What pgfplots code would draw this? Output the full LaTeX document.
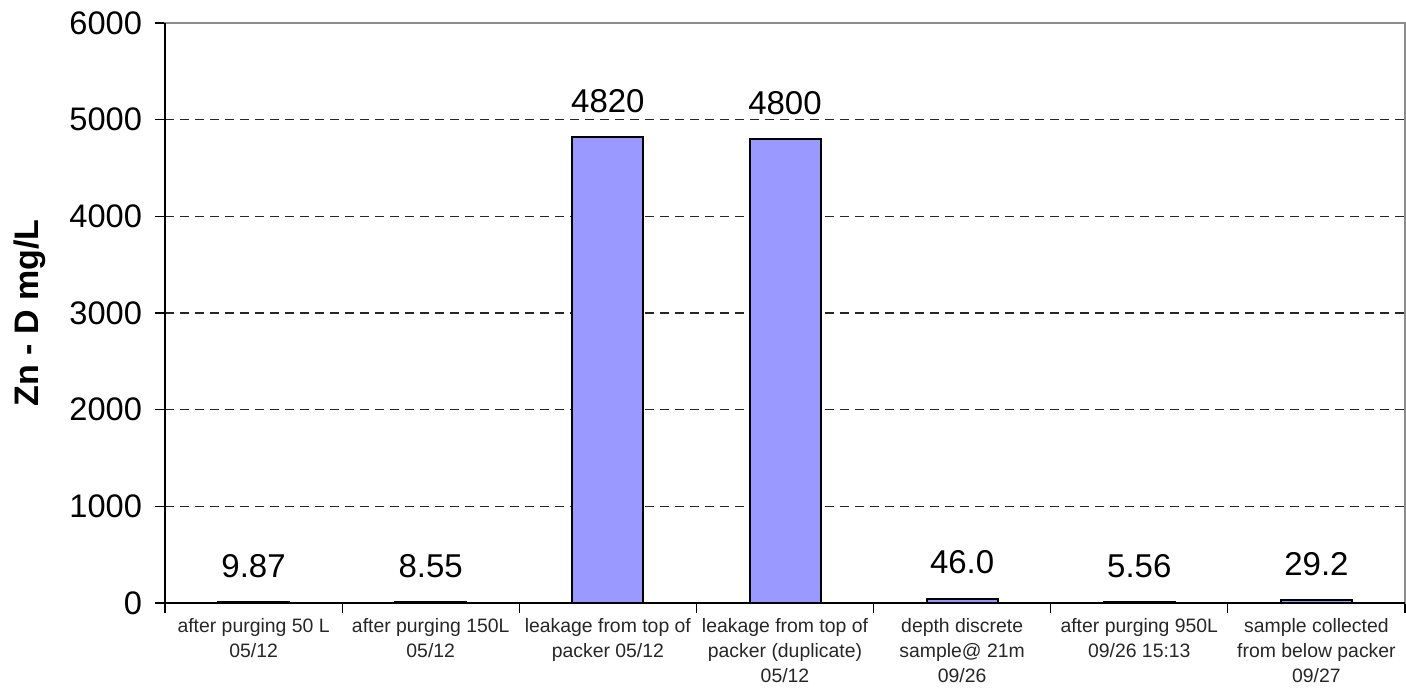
\documentclass[border=0pt]{standalone}
\usepackage{pgfplots}
\pgfplotsset{compat=1.18}
\usepackage{pgfplotstable}
\usepackage{fontspec}
\setmainfont{Liberation Sans}
\definecolor{barblue}{HTML}{9999FF}
\definecolor{framegray}{HTML}{8C8C8C}
\pgfplotstableread{
x y lab
0 9.87 9.87
1 8.55 8.55
2 4820 4820
3 4800 4800
4 46.0 46.0
5 5.56 5.56
6 29.2 29.2
}\datatable
\begin{document}
\begin{tikzpicture}
\useasboundingbox (-82.5pt,-44.5pt) rectangle (620.5pt,301.5pt);
\begin{axis}[
  at={(0,0)}, anchor=south west,
  scale only axis,
  width=620pt, height=290pt,
  xmin=-0.5, xmax=6.5,
  ymin=0, ymax=6000,
  ytick={0,1000,...,6000},
  xtick={-0.5,0.5,...,6.5},
  xticklabels={},
  extra x ticks={0,1,2,3,4,5,6},
  extra x tick labels={
    {after purging 50 L\\05/12},
    {after purging 150L\\05/12},
    {leakage from top of\\packer 05/12},
    {leakage from top of\\packer (duplicate)\\05/12},
    {depth discrete\\sample@ 21m\\09/26},
    {after purging 950L\\09/26 15:13},
    {sample collected\\from below packer\\09/27}},
  extra x tick style={major tick length=0pt, grid=none,
    tick label style={font=\fontsize{9.7}{12.5}\selectfont, align=center, anchor=north, yshift=-4pt, text=black!85}},
  tick align=outside,
  major tick length=5pt,
  tick style={black, line width=0.6pt},
  ytick pos=left, xtick pos=bottom,
  ymajorgrids,
  major grid style={black!85, line width=0.6pt, dash pattern=on 4.5pt off 3pt},
  axis line style={framegray, line width=1pt},
  yticklabel style={font=\fontsize{16.3}{18}\selectfont, xshift=-3pt},
  /pgf/number format/assume math mode=true,
  scaled y ticks=false,
  yticklabel={\pgfmathprintnumber[fixed,1000 sep={}]{\tick}},
  clip=false,
]
\addplot[ybar, bar width=35.5pt, fill=barblue, draw=black, line width=1pt,
  point meta=explicit symbolic,
  nodes near coords,
  every node near coord/.append style={font=\fontsize{16.5}{19}\selectfont, anchor=base, yshift=12.3pt, black}]
  table[x=x, y=y, meta=lab] {\datatable};
\draw[black, line width=1pt] (rel axis cs:0,1) -- (rel axis cs:0,0) -- (rel axis cs:1,0);
\node[rotate=90, font=\fontsize{17}{20}\selectfont\bfseries, anchor=center] at ([xshift=-67.5pt]rel axis cs:0,0.5) {Zn - D mg/L};
\end{axis}
\end{tikzpicture}
\end{document}
